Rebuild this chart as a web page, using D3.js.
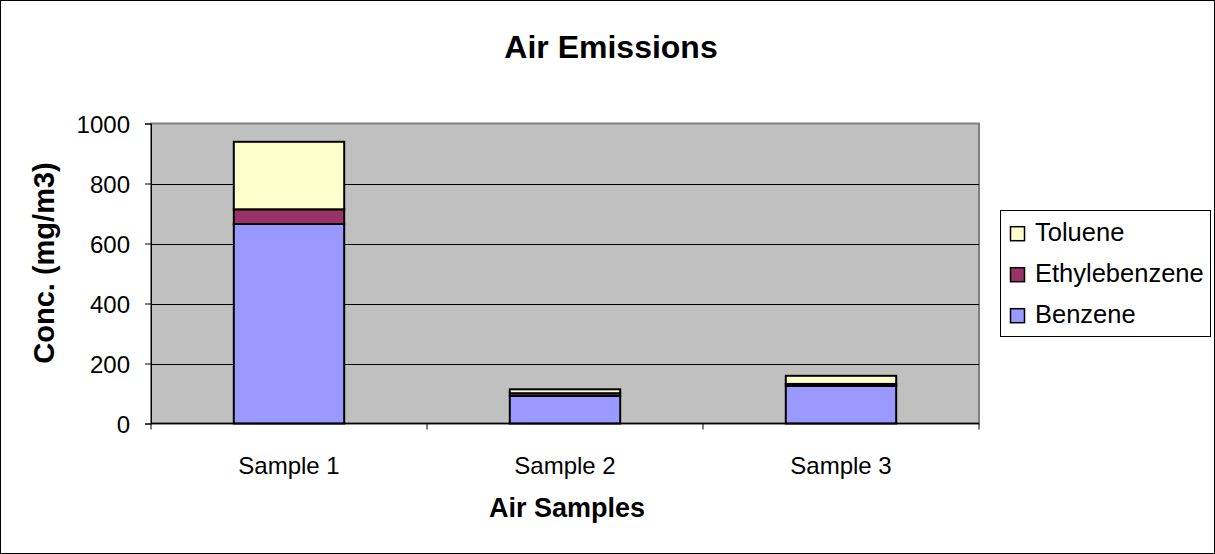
<!DOCTYPE html>
<html>
<head>
<meta charset="utf-8">
<script src="https://cdn.jsdelivr.net/npm/d3@7"></script>
<style>
  html, body { margin: 0; padding: 0; background: #fff; }
  svg text { font-family: "Liberation Sans", Arial, sans-serif; fill: #000; }
</style>
</head>
<body>
<svg id="chart" width="1215" height="554"></svg>
<script>
// Air emission concentrations (mg/m3) per sample, stacked by compound
const samples = ["Sample 1", "Sample 2", "Sample 3"];
const benzene = [665, 92, 125];
const ethylbenzene = [49, 9, 7];
const toluene = [225, 13, 27];
const yTicks = [0, 200, 400, 600, 800, 1000];

const seriesNames = ["Benzene", "Ethylebenzene", "Toluene"];
const seriesColors = ["#9999ff", "#993366", "#ffffcc"];

const rows = samples.map((s, i) => ({
  sample: s,
  Benzene: benzene[i],
  Ethylebenzene: ethylbenzene[i],
  Toluene: toluene[i]
}));

const svg = d3.select("#chart");
const W = 1215, H = 554;

// outer frame
svg.append("rect").attr("x", 0.5).attr("y", 0.5)
  .attr("width", W - 1).attr("height", H - 1)
  .attr("fill", "#fff").attr("stroke", "#000");

const plot = { left: 151, right: 979, top: 123.5, bottom: 423.5 };

const x = d3.scaleBand().domain(samples).range([plot.left, plot.right]).padding(0);
const y = d3.scaleLinear().domain([0, 1000]).range([plot.bottom, plot.top]);

// plot background
svg.append("rect")
  .attr("x", plot.left).attr("y", plot.top)
  .attr("width", plot.right - plot.left).attr("height", plot.bottom - plot.top)
  .attr("fill", "#c0c0c0").attr("stroke", "#808080").attr("stroke-width", 2);

// horizontal gridlines
svg.append("g").selectAll("line")
  .data(yTicks.filter(t => t > 0 && t < 1000))
  .join("line")
  .attr("x1", plot.left).attr("x2", plot.right)
  .attr("y1", d => Math.round(y(d)) + 0.5).attr("y2", d => Math.round(y(d)) + 0.5)
  .attr("stroke", "#000").attr("stroke-width", 1);

// stacked bars
const stack = d3.stack().keys(seriesNames);
const layers = stack(rows);
const barW = x.bandwidth() * 0.4;

svg.append("g").selectAll("g")
  .data(layers)
  .join("g")
  .attr("fill", (d, i) => seriesColors[i])
  .selectAll("rect")
  .data(d => d)
  .join("rect")
  .attr("x", d => x(d.data.sample) + (x.bandwidth() - barW) / 2)
  .attr("y", d => y(d[1]))
  .attr("width", barW)
  .attr("height", d => y(d[0]) - y(d[1]))
  .attr("stroke", "#000")
  .attr("stroke-width", 2);

// y axis
const yAxis = d3.axisLeft(y).tickValues(yTicks).tickFormat(d3.format("d"))
  .tickSize(6).tickPadding(15);
const gy = svg.append("g").attr("transform", `translate(${plot.left},0)`).call(yAxis);
gy.attr("font-family", null).attr("font-size", null);
gy.select(".domain").attr("stroke", "#000");
gy.selectAll(".tick line").attr("stroke", "#000");
gy.selectAll("text").attr("font-size", 24).attr("dy", "0.36em");

// x axis: baseline with ticks at category boundaries
const gx = svg.append("g");
gx.append("line")
  .attr("x1", plot.left).attr("x2", plot.right)
  .attr("y1", plot.bottom).attr("y2", plot.bottom)
  .attr("stroke", "#000").attr("stroke-width", 1.5);
const boundaries = samples.map(s => x(s)).concat([x(samples[samples.length - 1]) + x.bandwidth()]);
gx.selectAll("line.tk")
  .data(boundaries)
  .join("line").attr("class", "tk")
  .attr("x1", d => d).attr("x2", d => d)
  .attr("y1", plot.bottom).attr("y2", plot.bottom + 6)
  .attr("stroke", "#000");
gx.selectAll("text")
  .data(samples)
  .join("text")
  .attr("x", d => x(d) + x.bandwidth() / 2)
  .attr("y", 474)
  .attr("text-anchor", "middle")
  .attr("font-size", 24)
  .text(d => d);

// titles
svg.append("text")
  .attr("x", 611).attr("y", 58)
  .attr("text-anchor", "middle")
  .attr("font-size", 32).attr("font-weight", "bold")
  .text("Air Emissions");

svg.append("text")
  .attr("x", 567).attr("y", 517)
  .attr("text-anchor", "middle")
  .attr("font-size", 27).attr("font-weight", "bold")
  .text("Air Samples");

svg.append("text")
  .attr("transform", `translate(54,263) rotate(-90)`)
  .attr("text-anchor", "middle")
  .attr("font-size", 29).attr("font-weight", "bold")
  .text("Conc. (mg/m3)");

// legend
const lg = svg.append("g");
lg.append("rect")
  .attr("x", 1000.5).attr("y", 210.5)
  .attr("width", 210).attr("height", 126)
  .attr("fill", "#fff").attr("stroke", "#000");
const legendOrder = ["Toluene", "Ethylebenzene", "Benzene"];
legendOrder.forEach((name, i) => {
  const cy = 233.7 + i * 41;
  lg.append("rect")
    .attr("x", 1010.5).attr("y", cy - 7)
    .attr("width", 14).attr("height", 14)
    .attr("fill", seriesColors[seriesNames.indexOf(name)])
    .attr("stroke", "#000").attr("stroke-width", 1.5);
  lg.append("text")
    .attr("x", 1035).attr("y", cy + 7)
    .attr("font-size", 25.5)
    .text(name);
});
</script>
</body>
</html>
